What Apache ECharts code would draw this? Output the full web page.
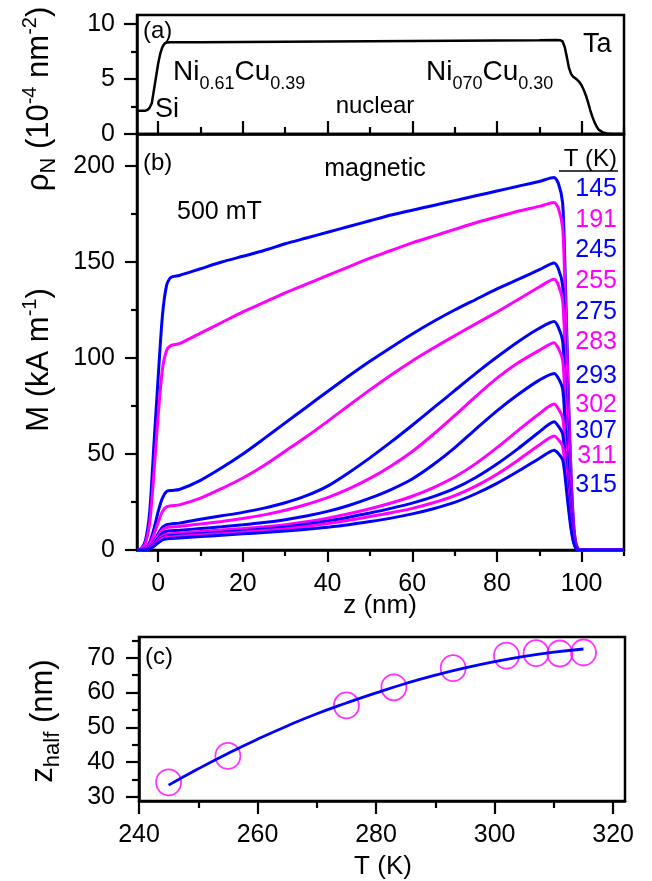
<!DOCTYPE html>
<html>
<head>
<meta charset="utf-8">
<script src="https://cdn.jsdelivr.net/npm/echarts@6.0.0/dist/echarts.min.js"></script>
<style>
  html, body { margin: 0; padding: 0; background: #fff; }
  #chart { width: 652px; height: 881px; }
</style>
</head>
<body>
<div id="chart"></div>
<script>
// ---------- data ----------
// (a) nuclear scattering length density profile, 10^-4 nm^-2
const zNuc = [-5, -4, -3, -2.5, -2, -1.5, -1, -0.5, 0, 0.5, 1, 1.5, 2, 3,
  10, 20, 30, 40, 50, 60, 70, 80, 90,
  94, 95, 95.5, 96, 96.5, 97, 97.5, 98, 98.5, 99, 99.5, 100, 100.5, 101, 101.5, 102, 102.5, 103, 103.5, 104,
  105, 106, 107, 110];
const rhoNuc = [2.1, 2.1, 2.12, 2.2, 2.4, 2.8, 4.0, 5.2, 6.4, 7.3, 7.9, 8.2, 8.3, 8.32,
  8.33, 8.35, 8.37, 8.4, 8.42, 8.44, 8.46, 8.48, 8.5,
  8.52, 8.5, 8.4, 7.9, 7.0, 6.0, 5.45, 5.2, 5.05, 4.9, 4.7, 4.4, 4.0, 3.5, 2.9, 2.2, 1.6, 1.1, 0.7, 0.4,
  0.15, 0.05, 0.01, 0];

// (b) magnetization depth profiles at 500 mT, kA/m, sampled on zGrid (nm)
const zGrid = [-5, -4, -3, -2, -1, 0, 1, 2, 3,
  5, 10, 15, 20, 25, 30, 35, 40, 45, 50, 55, 60, 65, 70, 75, 80, 85, 90,
  93.5,
  94.5, 95.5, 96, 96.5, 97, 97.5, 98, 98.5, 99, 99.5,
  110];
const temps = [145, 191, 245, 255, 275, 283, 293, 302, 307, 311, 315];
const m145 = [0, 0.8, 5, 20, 55, 90, 122, 138, 142,
  143, 146.5, 150, 153, 156, 159.5, 162.5, 165.5, 168.5, 171.5, 174.5, 177, 179.5, 182, 184.5, 187, 189.5, 192,
  194,
  191, 181, 152, 112, 72, 40, 17, 5, 1.2, 0,
  0];
const m191 = [0, 0.5, 3.5, 14, 40, 70, 94, 104, 106.5,
  107.5, 113, 118.5, 124, 129, 134, 138.5, 143, 147.5, 152, 156, 160, 163.5, 167, 170.5, 173.5, 176.5, 179,
  181,
  178, 168, 141, 104, 67, 37, 16, 5, 1.2, 0,
  0];
const m245 = [0, 0.2, 1, 4, 11, 20, 27, 30.5, 31,
  31.5, 36.3, 42.8, 50, 58, 66.2, 74.4, 82.6, 90.6, 98.3, 105.5, 112.5, 119, 125, 130.5, 136, 141, 146,
  149.5,
  146.5, 138, 116, 86, 55, 30, 13, 4, 1, 0,
  0];
const m255 = [0, 0.15, 0.8, 3, 8, 14.5, 20, 22.5, 23,
  23.5, 27, 32, 37.5, 44, 51.5, 59, 67, 75.3, 83.4, 91.2, 98.5, 105.2, 111.6, 117.8, 124, 130.5, 137,
  141,
  138, 130, 109, 80, 52, 28, 12, 3.5, 0.8, 0,
  0];
const m275 = [0, 0.1, 0.5, 1.6, 4.5, 8.5, 11.8, 13.2, 13.6,
  14, 16, 17.8, 19.6, 21.8, 24.6, 28.3, 33.3, 40.3, 48, 56.3, 65, 74, 83, 92, 100.5, 108.5, 115.5,
  119,
  116, 109, 91, 67, 44, 24, 10, 3, 0.7, 0,
  0];
const m283 = [0, 0.1, 0.4, 1.4, 4, 7.5, 10.5, 11.7, 12,
  12.3, 13.6, 14.9, 16.4, 18.3, 20.7, 23.7, 27.3, 31.8, 37.3, 43.8, 51.3, 60.3, 70, 80, 89.5, 97.5, 104,
  108,
  105, 99, 83, 61, 40, 22, 9.5, 2.8, 0.6, 0,
  0];
const m293 = [0, 0.1, 0.3, 1.1, 3.3, 6.3, 8.7, 9.8, 10,
  10.3, 11.2, 12.1, 13.1, 14.3, 15.8, 17.7, 20.1, 23.2, 27, 31.5, 37, 44.5, 53.2, 63, 72.5, 81, 88.5,
  92,
  89.5, 84, 70, 51, 34, 19, 8, 2.4, 0.5, 0,
  0];
const m302 = [0, 0.05, 0.25, 0.9, 2.7, 5.2, 7.3, 8.3, 8.5,
  8.8, 9.6, 10.4, 11.2, 12.1, 13.2, 14.7, 16.6, 18.9, 21.5, 24.5, 28, 32.5, 38, 45, 53.3, 62.3, 71,
  76,
  73.5, 69, 58, 42, 28, 15.5, 6.7, 2, 0.4, 0,
  0];
const m307 = [0, 0.05, 0.2, 0.8, 2.4, 4.6, 6.5, 7.3, 7.5,
  7.8, 8.5, 9.2, 10, 10.9, 12, 13.4, 15.1, 17.1, 19.3, 21.7, 24.4, 27.8, 32.1, 37.8, 44.8, 52.8, 61.5,
  66.8,
  64.5, 60.5, 51, 37.5, 25, 13.8, 6, 1.8, 0.4, 0,
  0];
const m311 = [0, 0.05, 0.2, 0.7, 2.1, 4.1, 5.9, 6.6, 6.8,
  7.1, 7.8, 8.5, 9.3, 10.1, 11, 12.3, 13.8, 15.5, 17.4, 19.4, 21.7, 24.6, 28.3, 33.3, 39.5, 46.8, 54.7,
  59.4,
  57.5, 54, 45.5, 33.5, 22, 12.2, 5.3, 1.6, 0.3, 0,
  0];
const m315 = [0, 0.05, 0.2, 0.6, 1.9, 3.7, 5.2, 5.8, 6,
  6.3, 7, 7.7, 8.4, 9.1, 9.9, 10.8, 11.9, 13.2, 14.8, 16.6, 18.8, 21.5, 24.8, 29.3, 34.7, 41, 47.7,
  52,
  50.3, 47, 40, 29.5, 19.5, 10.8, 4.7, 1.4, 0.3, 0,
  0];
const profiles = [m145, m191, m245, m255, m275, m283, m293, m302, m307, m311, m315];

// (c) half-magnetization depth vs temperature, with fitted curve
const tHalf = [245, 255, 275, 283, 293, 302, 307, 311, 315];
const zHalf = [34.2, 41.8, 56.3, 61.5, 67.0, 70.6, 71.3, 71.2, 71.5];
const tFit = [245, 250, 255, 260, 265, 270, 275, 280, 285, 290, 295, 300, 305, 310, 315];
const zFit = [33.4, 38.1, 42.5, 46.6, 50.4, 53.9, 57.0, 59.9, 62.6, 65.0, 67.1, 68.9, 70.4, 71.6, 72.5];

// tick positions
const zMajor = [0, 20, 40, 60, 80, 100];
const zMinor = [10, 30, 50, 70, 90, 110];
const rhoMajor = [0, 5, 10];
const rhoMinor = [2.5, 7.5];
const mMajor = [0, 50, 100, 150, 200];
const mMinor = [25, 75, 125, 175];
const tMajor = [240, 260, 280, 300, 320];
const tMinor = [250, 270, 290, 310];
const hMajor = [30, 40, 50, 60, 70];
const hMinor = [35, 45, 55, 65, 75];

// ---------- styling ----------
const BLUE = '#0000ff';
const MAGENTA = '#ff00ff';
const FONT = 'Liberation Sans';
const legendRowY = [189, 220.5, 250.5, 281.5, 312.5, 342, 376.5, 405, 431.5, 456.5, 485];

const chart = echarts.init(document.getElementById('chart'), null, { renderer: 'canvas' });

function axis(gridIndex, position, min, max, opts) {
  const ax = {
    type: 'value', gridIndex, position, min, max,
    splitLine: { show: false },
    axisLine: { show: opts.line, onZero: false, lineStyle: { color: '#000', width: 2.5 } },
    axisTick: {
      show: true, inside: !!opts.inside, length: opts.len,
      customValues: opts.ticks, lineStyle: { color: '#000', width: 2.2 }
    },
    axisLabel: { show: false }
  };
  if (opts.labels) {
    ax.axisLabel = {
      show: true, customValues: opts.labels, color: '#000',
      fontFamily: FONT, fontSize: 25, margin: opts.margin
    };
  }
  return ax;
}

const rich = {
  b: { fontFamily: FONT, fontSize: 28, fill: '#000' },
  s: { fontFamily: FONT, fontSize: 18, fill: '#000', padding: [24, 0, 0, 0] },
  // axis-title styles
  B: { fontFamily: FONT, fontSize: 31, fill: '#000' },
  P: { fontFamily: FONT, fontSize: 20, fill: '#000', padding: [0, 0, 18, 0] },
  N: { fontFamily: FONT, fontSize: 22, fill: '#000', padding: [20, 0, 0, 0] }
};

function txt(x, y, text, size, align, color) {
  return {
    type: 'text', x, y, silent: true,
    style: {
      text, fontFamily: FONT, fontSize: size, fill: color || '#000',
      align: align || 'left', verticalAlign: 'middle'
    }
  };
}
function richTxt(x, y, text, align, rotation) {
  return {
    type: 'text', x, y, rotation: rotation || 0, silent: true,
    style: { text, rich, fontFamily: FONT, fontSize: 28, fill: '#000', align: align || 'left', verticalAlign: 'middle' }
  };
}

const graphics = [
  txt(143, 31, '(a)', 24),
  txt(143, 163, '(b)', 24),
  txt(145, 657, '(c)', 24),
  txt(155, 110, 'Si', 27),
  richTxt(173, 72, '{b|Ni}{s|0.61}{b|Cu}{s|0.39}'),
  richTxt(426, 72, '{b|Ni}{s|070}{b|Cu}{s|0.30}'),
  txt(583, 45, 'Ta', 27),
  txt(375, 106, 'nuclear', 24, 'center'),
  txt(375, 169, 'magnetic', 25, 'center'),
  txt(177, 212, '500 mT', 25),
  txt(617, 159, 'T (K)', 24, 'right'),
  { type: 'line', silent: true, shape: { x1: 559, y1: 171, x2: 618, y2: 171 }, style: { stroke: '#000', lineWidth: 1.5 } },
  txt(380, 606, 'z (nm)', 26, 'center'),
  txt(383, 867, 'T (K)', 26, 'center'),
  richTxt(39, 99, '{B|ρ}{N|N}{B| (10}{P|-4}{B| nm}{P|-2}{B|)}', 'center', Math.PI / 2),
  richTxt(39, 360, '{B|M (kA m}{P|-1}{B|)}', 'center', Math.PI / 2),
  richTxt(43, 721, '{B|z}{N|half}{B| (nm)}', 'center', Math.PI / 2)
];
temps.forEach((t, i) => {
  graphics.push(txt(617, legendRowY[i], String(t), 25, 'right', i % 2 ? MAGENTA : BLUE));
});

const series = [
  {
    type: 'line', xAxisIndex: 0, yAxisIndex: 0, silent: true,
    data: zNuc.map((z, i) => [z, rhoNuc[i]]),
    showSymbol: false, lineStyle: { color: '#000', width: 2.5 }
  }
];
temps.forEach((t, i) => {
  const c = i % 2 ? MAGENTA : BLUE;
  series.push({
    type: 'line', name: t + ' K', xAxisIndex: 2, yAxisIndex: 2, silent: true,
    data: zGrid.map((z, j) => [z, profiles[i][j]]),
    showSymbol: false, color: c, smooth: 0.25,
    lineStyle: { color: c, width: 3 }
  });
});
series.push({
  type: 'scatter', xAxisIndex: 4, yAxisIndex: 4, silent: true,
  data: tHalf.map((t, i) => [t, zHalf[i]]),
  symbol: 'circle', symbolSize: [25, 26],
  itemStyle: { color: 'rgba(0,0,0,0)', borderColor: MAGENTA, borderWidth: 1.8 }
});
series.push({
  type: 'line', xAxisIndex: 4, yAxisIndex: 4, silent: true,
  data: tFit.map((t, i) => [t, zFit[i]]),
  showSymbol: false, smooth: true, lineStyle: { color: BLUE, width: 2.8 }
});

const gridStyle = { show: true, borderColor: '#000', borderWidth: 2.5, containLabel: false };

chart.setOption({
  animation: false,
  backgroundColor: '#fff',
  grid: [
    Object.assign({ left: 137, top: 15, width: 487, height: 119 }, gridStyle),
    Object.assign({ left: 137, top: 134, width: 487, height: 416 }, gridStyle),
    Object.assign({ left: 139, top: 637, width: 486, height: 164 }, gridStyle)
  ],
  xAxis: [
    axis(0, 'bottom', -5, 110, { line: true, inside: true, len: 13, ticks: zMajor }),
    axis(0, 'bottom', -5, 110, { line: false, inside: true, len: 7, ticks: zMinor }),
    axis(1, 'bottom', -5, 110, { line: true, len: 12, ticks: zMajor, labels: zMajor, margin: 22 }),
    axis(1, 'bottom', -5, 110, { line: false, len: 6, ticks: zMinor }),
    axis(2, 'bottom', 240, 322, { line: true, len: 13, ticks: tMajor, labels: tMajor, margin: 22 }),
    axis(2, 'bottom', 240, 322, { line: false, len: 7, ticks: tMinor })
  ],
  yAxis: [
    axis(0, 'left', 0, 10.8, { line: true, len: 13, ticks: rhoMajor, labels: rhoMajor, margin: 22 }),
    axis(0, 'left', 0, 10.8, { line: false, len: 6, ticks: rhoMinor }),
    axis(1, 'left', 0, 216.7, { line: true, len: 12, ticks: mMajor, labels: mMajor, margin: 22 }),
    axis(1, 'left', 0, 216.7, { line: false, len: 6, ticks: mMinor }),
    axis(2, 'left', 28.85, 75.95, { line: true, len: 13, ticks: hMajor, labels: hMajor, margin: 24 }),
    axis(2, 'left', 28.85, 75.95, { line: false, len: 7, ticks: hMinor })
  ],
  graphic: graphics,
  series
});
</script>
</body>
</html>
